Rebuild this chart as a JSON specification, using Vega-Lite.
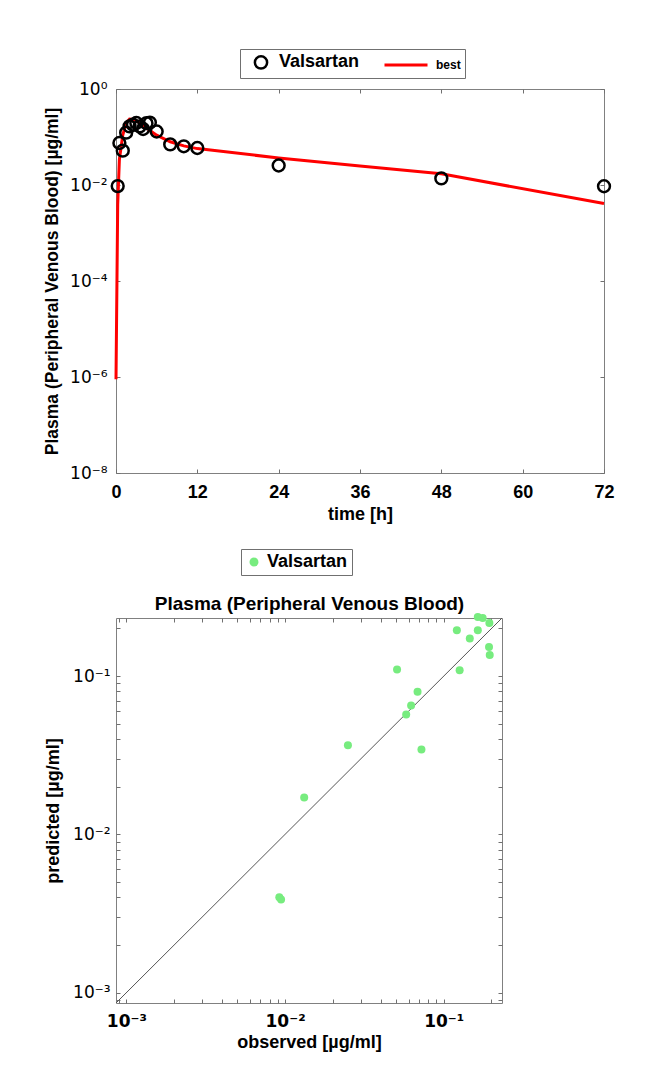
{
  "$schema": "https://vega.github.io/schema/vega-lite/v6.json",
  "background": "white",
  "padding": {"left": 43, "top": 48, "right": 5, "bottom": 5},
  "bounds": "flush",
  "spacing": 145,
  "resolve": {"scale": {"color": "independent"}, "legend": {"color": "independent"}},
  "config": {
    "font": "Liberation Sans",
    "view": {"stroke": "#808080", "strokeWidth": 1},
    "axis": {
      "domain": false, "grid": false, "tickColor": "#707070", "tickSize": -4, "tickWidth": 1,
      "labelColor": "black", "titleColor": "black", "labelFontSize": 18, "titleFontSize": 18,
      "titleFontWeight": "bold", "labelFlush": false, "labelOverlap": false
    },
    "legend": {"strokeColor": "#707070", "fillColor": "white", "padding": 4, "labelColor": "black", "labelLimit": 300}
  },
  "datasets": {
    "pk": [
      {"series": "best", "t": 0, "c": 0.0000009},
      {"series": "best", "t": 0.25, "c": 0.0039},
      {"series": "best", "t": 0.5, "c": 0.034},
      {"series": "best", "t": 1, "c": 0.11},
      {"series": "best", "t": 1.5, "c": 0.195},
      {"series": "best", "t": 2, "c": 0.236},
      {"series": "best", "t": 2.5, "c": 0.233},
      {"series": "best", "t": 3, "c": 0.217},
      {"series": "best", "t": 3.5, "c": 0.195},
      {"series": "best", "t": 4, "c": 0.173},
      {"series": "best", "t": 4.5, "c": 0.153},
      {"series": "best", "t": 5, "c": 0.136},
      {"series": "best", "t": 6, "c": 0.109},
      {"series": "best", "t": 8, "c": 0.0796},
      {"series": "best", "t": 10, "c": 0.0653},
      {"series": "best", "t": 12, "c": 0.0573},
      {"series": "best", "t": 24, "c": 0.0366},
      {"series": "best", "t": 36, "c": 0.025},
      {"series": "best", "t": 48, "c": 0.0171},
      {"series": "best", "t": 72, "c": 0.0041},
      {"series": "Valsartan", "t": 0.25, "c": 0.0095},
      {"series": "Valsartan", "t": 0.5, "c": 0.075},
      {"series": "Valsartan", "t": 1, "c": 0.052},
      {"series": "Valsartan", "t": 1.5, "c": 0.123},
      {"series": "Valsartan", "t": 2, "c": 0.166},
      {"series": "Valsartan", "t": 2.5, "c": 0.18},
      {"series": "Valsartan", "t": 3, "c": 0.196},
      {"series": "Valsartan", "t": 3.5, "c": 0.166},
      {"series": "Valsartan", "t": 4, "c": 0.147},
      {"series": "Valsartan", "t": 4.5, "c": 0.194},
      {"series": "Valsartan", "t": 5, "c": 0.2},
      {"series": "Valsartan", "t": 6, "c": 0.13},
      {"series": "Valsartan", "t": 8, "c": 0.07},
      {"series": "Valsartan", "t": 10, "c": 0.064},
      {"series": "Valsartan", "t": 12, "c": 0.059},
      {"series": "Valsartan", "t": 24, "c": 0.0255},
      {"series": "Valsartan", "t": 48, "c": 0.0137},
      {"series": "Valsartan", "t": 72, "c": 0.0094}
    ],
    "scatter": [
      {"group": "Valsartan", "o": 0.0092, "p": 0.0040},
      {"group": "Valsartan", "o": 0.0724, "p": 0.0344},
      {"group": "Valsartan", "o": 0.0508, "p": 0.110},
      {"group": "Valsartan", "o": 0.121, "p": 0.195},
      {"group": "Valsartan", "o": 0.164, "p": 0.236},
      {"group": "Valsartan", "o": 0.176, "p": 0.233},
      {"group": "Valsartan", "o": 0.194, "p": 0.217},
      {"group": "Valsartan", "o": 0.164, "p": 0.195},
      {"group": "Valsartan", "o": 0.146, "p": 0.173},
      {"group": "Valsartan", "o": 0.193, "p": 0.153},
      {"group": "Valsartan", "o": 0.195, "p": 0.136},
      {"group": "Valsartan", "o": 0.126, "p": 0.109},
      {"group": "Valsartan", "o": 0.0684, "p": 0.0796},
      {"group": "Valsartan", "o": 0.0623, "p": 0.0653},
      {"group": "Valsartan", "o": 0.058, "p": 0.0573},
      {"group": "Valsartan", "o": 0.0249, "p": 0.0366},
      {"group": "Valsartan", "o": 0.0132, "p": 0.0171},
      {"group": "Valsartan", "o": 0.00944, "p": 0.00388}
    ],
    "diag": [
      {"o": 0.00086, "p": 0.00086},
      {"o": 0.233, "p": 0.233}
    ]
  },
  "vconcat": [
    {
      "width": 488,
      "height": 384,
      "data": {"name": "pk"},
      "layer": [
        {
          "transform": [{"filter": "datum.series === 'best'"}],
          "mark": {"type": "line", "strokeWidth": 3},
          "encoding": {
            "x": {
              "field": "t", "type": "quantitative",
              "scale": {"domain": [0, 72], "nice": false, "zero": false},
              "axis": {"orient": "bottom", "values": [0, 12, 24, 36, 48, 60, 72], "labelFontWeight": "bold", "labelPadding": 14, "title": "time [h]", "titlePadding": 4}
            },
            "y": {
              "field": "c", "type": "quantitative",
              "scale": {"type": "log", "domain": [0.00000001, 1], "nice": false},
              "axis": {
                "orient": "left", "values": [0.00000001, 0.000001, 0.0001, 0.01, 1],
                "labelExpr": "'10' + (datum.value < 1 ? '⁻' : '') + ['⁰','¹','²','³','⁴','⁵','⁶','⁷','⁸','⁹'][abs(round(log(datum.value)/LN10))]",
                "labelFont": "DejaVu Sans", "labelFontSize": 17,
                "labelPadding": 13, "title": "Plasma (Peripheral Venous Blood) [µg/ml]", "titleFontSize": 17.5, "titlePadding": 8
              }
            },
            "color": {
              "field": "series", "type": "nominal",
              "scale": {"domain": ["Valsartan", "best"], "range": ["black", "red"]},
              "legend": {
                "orient": "none", "legendX": 124, "legendY": -40, "direction": "horizontal", "title": null,
                "labelFontSize": 18, "labelFontWeight": "bold", "columnPadding": 18, "symbolSize": 150,
                "encode": {
                  "symbols": {"update": {
                    "shape": {"signal": "datum.value === 'best' ? 'stroke' : 'circle'"},
                    "size": {"signal": "datum.value === 'best' ? 1850 : 150"},
                    "stroke": {"signal": "datum.value === 'best' ? 'red' : 'black'"},
                    "fill": {"value": "transparent"},
                    "fillOpacity": {"value": 0},
                    "strokeWidth": {"signal": "datum.value === 'best' ? 3 : 2.5"},
                    "x": {"signal": "datum.value === 'best' ? 22 : 17"}
                  }},
                  "labels": {"update": {
                    "fontSize": {"signal": "datum.value === 'best' ? 12 : 18"},
                    "fontWeight": {"value": "bold"},
                    "x": {"signal": "datum.value === 'best' ? 52 : 35"}
                  }}
                }
              }
            }
          }
        },
        {
          "transform": [{"filter": "datum.series === 'Valsartan'"}],
          "mark": {"type": "point", "shape": "circle", "filled": false, "stroke": "black", "strokeWidth": 2.5, "size": 140, "opacity": 1},
          "encoding": {
            "x": {"field": "t", "type": "quantitative", "axis": {"orient": "top", "values": [0, 12, 24, 36, 48, 60, 72], "labels": false, "title": null}},
            "y": {"field": "c", "type": "quantitative", "axis": {"orient": "right", "values": [0.00000001, 0.000001, 0.0001, 0.01, 1], "labels": false, "title": null}}
          }
        }
      ],
      "resolve": {"axis": {"x": "independent", "y": "independent"}}
    },
    {
      "width": 386,
      "height": 385,
      "layer": [
        {
          "data": {"name": "diag"},
          "mark": {"type": "line", "color": "#555555", "strokeWidth": 1},
          "encoding": {
            "x": {
              "field": "o", "type": "quantitative",
              "scale": {"type": "log", "domain": [0.00086, 0.233], "nice": false},
              "axis": {
                "orient": "bottom",
                "values": [0.0009, 0.001, 0.002, 0.003, 0.004, 0.005, 0.006, 0.007, 0.008, 0.009, 0.01, 0.02, 0.03, 0.04, 0.05, 0.06, 0.07, 0.08, 0.09, 0.1, 0.2],
                "labelExpr": "abs(log(datum.value)/LN10 - round(log(datum.value)/LN10)) < 0.001 ? '10' + (datum.value < 1 ? '⁻' : '') + ['⁰','¹','²','³','⁴','⁵','⁶','⁷','⁸','⁹'][abs(round(log(datum.value)/LN10))] : ''",
                "labelFont": "DejaVu Sans", "labelFontSize": 17,
                "labelFontWeight": "bold", "labelPadding": 14, "title": "observed [µg/ml]", "titlePadding": 4
              }
            },
            "y": {
              "field": "p", "type": "quantitative",
              "scale": {"type": "log", "domain": [0.00086, 0.233], "nice": false},
              "axis": {
                "orient": "left",
                "values": [0.0009, 0.001, 0.002, 0.003, 0.004, 0.005, 0.006, 0.007, 0.008, 0.009, 0.01, 0.02, 0.03, 0.04, 0.05, 0.06, 0.07, 0.08, 0.09, 0.1, 0.2],
                "labelExpr": "abs(log(datum.value)/LN10 - round(log(datum.value)/LN10)) < 0.001 ? '10' + (datum.value < 1 ? '⁻' : '') + ['⁰','¹','²','³','⁴','⁵','⁶','⁷','⁸','⁹'][abs(round(log(datum.value)/LN10))] : ''",
                "labelFont": "DejaVu Sans", "labelFontSize": 17,
                "labelPadding": 10, "title": "predicted [µg/ml]", "titlePadding": 10
              }
            }
          }
        },
        {
          "data": {"name": "scatter"},
          "mark": {"type": "circle", "size": 64, "opacity": 1},
          "encoding": {
            "x": {
              "field": "o", "type": "quantitative",
              "axis": {
                "orient": "top",
                "values": [0.0009, 0.001, 0.002, 0.003, 0.004, 0.005, 0.006, 0.007, 0.008, 0.009, 0.01, 0.02, 0.03, 0.04, 0.05, 0.06, 0.07, 0.08, 0.09, 0.1, 0.2],
                "labels": false, "title": "Plasma (Peripheral Venous Blood)", "titleFontSize": 19, "titlePadding": 4
              }
            },
            "y": {
              "field": "p", "type": "quantitative",
              "axis": {
                "orient": "right",
                "values": [0.0009, 0.001, 0.002, 0.003, 0.004, 0.005, 0.006, 0.007, 0.008, 0.009, 0.01, 0.02, 0.03, 0.04, 0.05, 0.06, 0.07, 0.08, 0.09, 0.1, 0.2],
                "labels": false, "title": null
              }
            },
            "color": {
              "field": "group", "type": "nominal",
              "scale": {"domain": ["Valsartan"], "range": ["#77ec7f"]},
              "legend": {
                "orient": "none", "legendX": 125, "legendY": -69, "title": null,
                "labelFontSize": 18, "labelFontWeight": "bold", "symbolSize": 80,
                "encode": {
                  "symbols": {"update": {"x": {"value": 13}}},
                  "labels": {"update": {"x": {"value": 28}}}
                }
              }
            }
          }
        }
      ],
      "resolve": {"axis": {"x": "independent", "y": "independent"}}
    }
  ]
}
